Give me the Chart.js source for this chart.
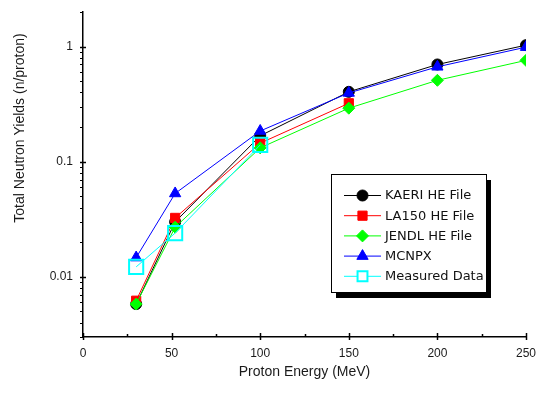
<!DOCTYPE html>
<html><head><meta charset="utf-8">
<script src="https://cdn.jsdelivr.net/npm/chart.js@4/dist/chart.umd.min.js"></script>
<style>html,body{margin:0;padding:0;background:#fff}</style>
</head><body>
<canvas id="c" width="540" height="394"></canvas>
<script>
// ---- data ----
const energies = [30, 52, 100, 150, 200, 250];
const measuredEnergies = [30, 52, 100];
const kaeriHE = [0.0058, 0.030, 0.168, 0.405, 0.70, 1.03];
const la150HE = [0.0062, 0.0325, 0.145, 0.322];
const jendlHE = [0.0058, 0.027, 0.132, 0.292, 0.51, 0.76];
const mcnpx = [0.0147, 0.053, 0.185, 0.396, 0.668, 0.99];
const measured = [0.0122, 0.024, 0.14];
const seriesNames = ['KAERI HE File', 'LA150 HE File', 'JENDL HE File', 'MCNPX', 'Measured Data'];
const xTickValues = [0, 50, 100, 150, 200, 250];
const xMinorValues = [25, 75, 125, 175, 225];
const yMajorValues = [0.01, 0.1, 1];
const yMinorValues = [0.003,0.004,0.005,0.006,0.007,0.008,0.009,0.02,0.03,0.04,0.05,0.06,0.07,0.08,0.09,0.2,0.3,0.4,0.5,0.6,0.7,0.8,0.9,2];
const xTitle = 'Proton Energy (MeV)';
const yTitle = 'Total Neutron Yields (n/proton)';

const pts = (xs, ys) => ys.map((v, i) => ({x: xs[i], y: v}));

const datasets = [
  {label: seriesNames[0], data: pts(energies, kaeriHE), borderColor:'#000000', backgroundColor:'#000000', pointStyle:'circle', pointRadius:5.5, order:5},
  {label: seriesNames[1], data: pts(energies, la150HE), borderColor:'#ff0000', backgroundColor:'#ff0000', pointStyle:'rect', pointRadius:6.5, order:4},
  {label: seriesNames[2], data: pts(energies, jendlHE), borderColor:'#00ff00', backgroundColor:'#00ff00', pointStyle:'rectRot', pointRadius:6, order:3},
  {label: seriesNames[3], data: pts(energies, mcnpx), borderColor:'#0000ff', backgroundColor:'#0000ff', pointStyle:'triangle', pointRadius:6.5, order:2},
  {label: seriesNames[4], data: pts(measuredEnergies, measured), borderColor:'#00ffff', backgroundColor:'rgba(0,0,0,0)', pointStyle:'rect', pointRadius:10, pointBorderWidth:2, order:1}
].map(d => Object.assign({borderWidth:1, pointBorderWidth:1, tension:0, fill:false, pointHoverRadius:d.pointRadius}, d));

const noPad = s => { s.paddingTop = 0; s.paddingBottom = 0; s.paddingLeft = 0; s.paddingRight = 0; };

const decor = {
  id: 'decor',
  afterDraw(chart) {
    const ctx = chart.ctx, xs = chart.scales.x, ys = chart.scales.y, a = chart.chartArea;
    ctx.save();
    ctx.strokeStyle = '#000'; ctx.lineWidth = 1.5;
    yMajorValues.forEach(v => {
      const p = Math.round(ys.getPixelForValue(v)) + 0.5;
      ctx.beginPath(); ctx.moveTo(a.left - 3, p); ctx.lineTo(a.left + 3, p); ctx.stroke();
    });
    ctx.lineWidth = 1;
    yMinorValues.forEach(v => {
      const p = Math.round(ys.getPixelForValue(v)) + 0.5;
      ctx.beginPath(); ctx.moveTo(a.left - 3, p); ctx.lineTo(a.left, p); ctx.stroke();
    });
    ctx.lineWidth = 1.5;
    xTickValues.forEach(v => {
      const p = Math.round(xs.getPixelForValue(v)) + 0.5;
      ctx.beginPath(); ctx.moveTo(p, a.bottom - 4); ctx.lineTo(p, a.bottom + 3); ctx.stroke();
    });
    xMinorValues.forEach(v => {
      const p = Math.round(xs.getPixelForValue(v)) + 0.5;
      ctx.beginPath(); ctx.moveTo(p, a.bottom - 3); ctx.lineTo(p, a.bottom); ctx.stroke();
    });
    // y title
    ctx.save();
    ctx.translate(20, 128); ctx.rotate(-Math.PI / 2);
    ctx.fillStyle = '#1a1a1a'; ctx.font = '14px "Liberation Sans", Arial, sans-serif';
    ctx.textAlign = 'center'; ctx.textBaseline = 'middle';
    ctx.fillText(yTitle, 0, 0);
    ctx.restore();
    // legend
    const bx = 331, by = 174, bw = 155, bh = 118;
    ctx.fillStyle = '#000'; ctx.fillRect(bx + 5, by + 6, bw, bh);
    ctx.fillStyle = '#fff'; ctx.fillRect(bx, by, bw, bh);
    ctx.strokeStyle = '#000'; ctx.lineWidth = 1; ctx.strokeRect(bx + 0.5, by + 0.5, bw, bh);
    ctx.font = '13px "DejaVu Sans", sans-serif'; ctx.textBaseline = 'middle'; ctx.textAlign = 'left';
    chart.data.datasets.forEach((d, i) => {
      const y = 195 + i * 20.2;
      ctx.strokeStyle = d.borderColor; ctx.lineWidth = 1;
      ctx.beginPath(); ctx.moveTo(344, y + 0.5); ctx.lineTo(381, y + 0.5); ctx.stroke();
      ctx.fillStyle = d.backgroundColor === 'rgba(0,0,0,0)' ? '#fff' : d.backgroundColor;
      ctx.lineWidth = d.pointBorderWidth;
      const r = d.pointStyle === 'rect' && i === 4 ? 7 : d.pointRadius;
      Chart.helpers.drawPoint(ctx, {pointStyle: d.pointStyle, radius: r, borderWidth: d.pointBorderWidth, rotation: 0}, 362.5, y + 0.5);
      ctx.fillStyle = '#111';
      ctx.fillText(d.label, 385, y + 1);
    });
    ctx.restore();
  }
};

new Chart(document.getElementById('c'), {
  type: 'line',
  data: {datasets},
  options: {
    responsive: false,
    animation: false,
    layout: {padding: {top: 10, right: 14, left: 0, bottom: 0}},
    plugins: {legend: {display: false}, tooltip: {enabled: false}},
    scales: {
      x: {
        type: 'linear', min: 0, max: 250,
        afterBuildTicks: s => { s.ticks = xTickValues.map(v => ({value: v})); },
        afterFit: s => { s.height = 57; noPad(s); },
        grid: {display: false, drawTicks: false},
        border: {display: true, color: '#000', width: 1.5},
        ticks: {color: '#1a1a1a', font: {size: 12, family: '"Liberation Sans", Arial, sans-serif'}, padding: 9, maxRotation: 0},
        title: {display: true, text: xTitle, color: '#1a1a1a', font: {size: 14, family: '"Liberation Sans", Arial, sans-serif'}, padding: {top: 0, bottom: 13}}
      },
      y: {
        type: 'logarithmic', min: 0.003, max: 2,
        afterBuildTicks: s => { s.ticks = yMajorValues.map(v => ({value: v})); },
        afterFit: s => { s.width = 83; noPad(s); },
        grid: {display: false, drawTicks: false},
        border: {display: true, color: '#000', width: 1.5},
        ticks: {color: '#1a1a1a', font: {size: 12, family: '"Liberation Sans", Arial, sans-serif'}, padding: 10,
          callback: v => String(v)}
      }
    }
  },
  plugins: [decor]
});
</script>
</body></html>
